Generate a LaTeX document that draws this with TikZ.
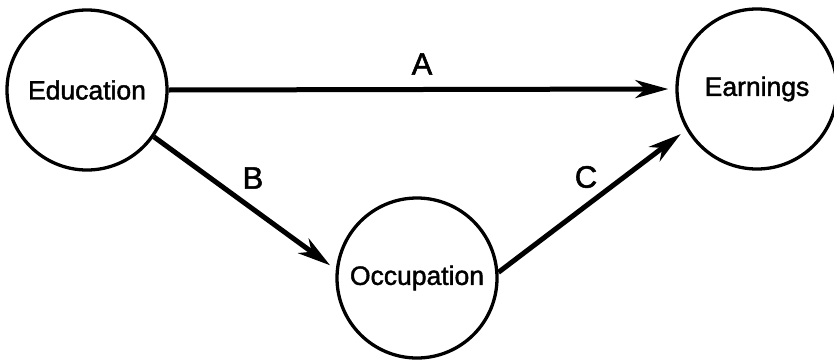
\documentclass[tikz,border=0pt]{standalone}
\usepackage{fontspec}
\setmainfont{Liberation Sans}
\newfontfamily\heavysans[FakeBold=1.6]{Liberation Sans}
\usetikzlibrary{arrows.meta}
\begin{document}
\begin{tikzpicture}[x=1pt,y=-1pt,
  var/.style={circle,draw,line width=3.3pt,minimum size=160pt,inner sep=0pt,font=\heavysans\fontsize{26.5}{30}\selectfont},
  link/.style={line width=5pt,-{Stealth[length=33pt,width=18pt,inset=10pt]},shorten >=7pt},
  lab/.style={inner sep=0pt,font=\heavysans\fontsize{31}{36}\selectfont}]
\useasboundingbox (0,0) rectangle (834,359);
\node[var] (edu) at (87,90) {Education};
\node[var] (earn) at (757,89) {Earnings};
\node[var] (occ) at (417,278) {Occupation};
\draw[link] (edu.east) -- (earn.west);
\draw[link] (edu.-35.5) -- (occ.174.7);
\draw[link] (occ.4) -- (earn.210);
\node[lab] (la) at (422,64) {A};
\node[lab] (lb) at (253,178) {B};
\node[lab] (lc) at (586,177) {C};
\end{tikzpicture}
\end{document}
